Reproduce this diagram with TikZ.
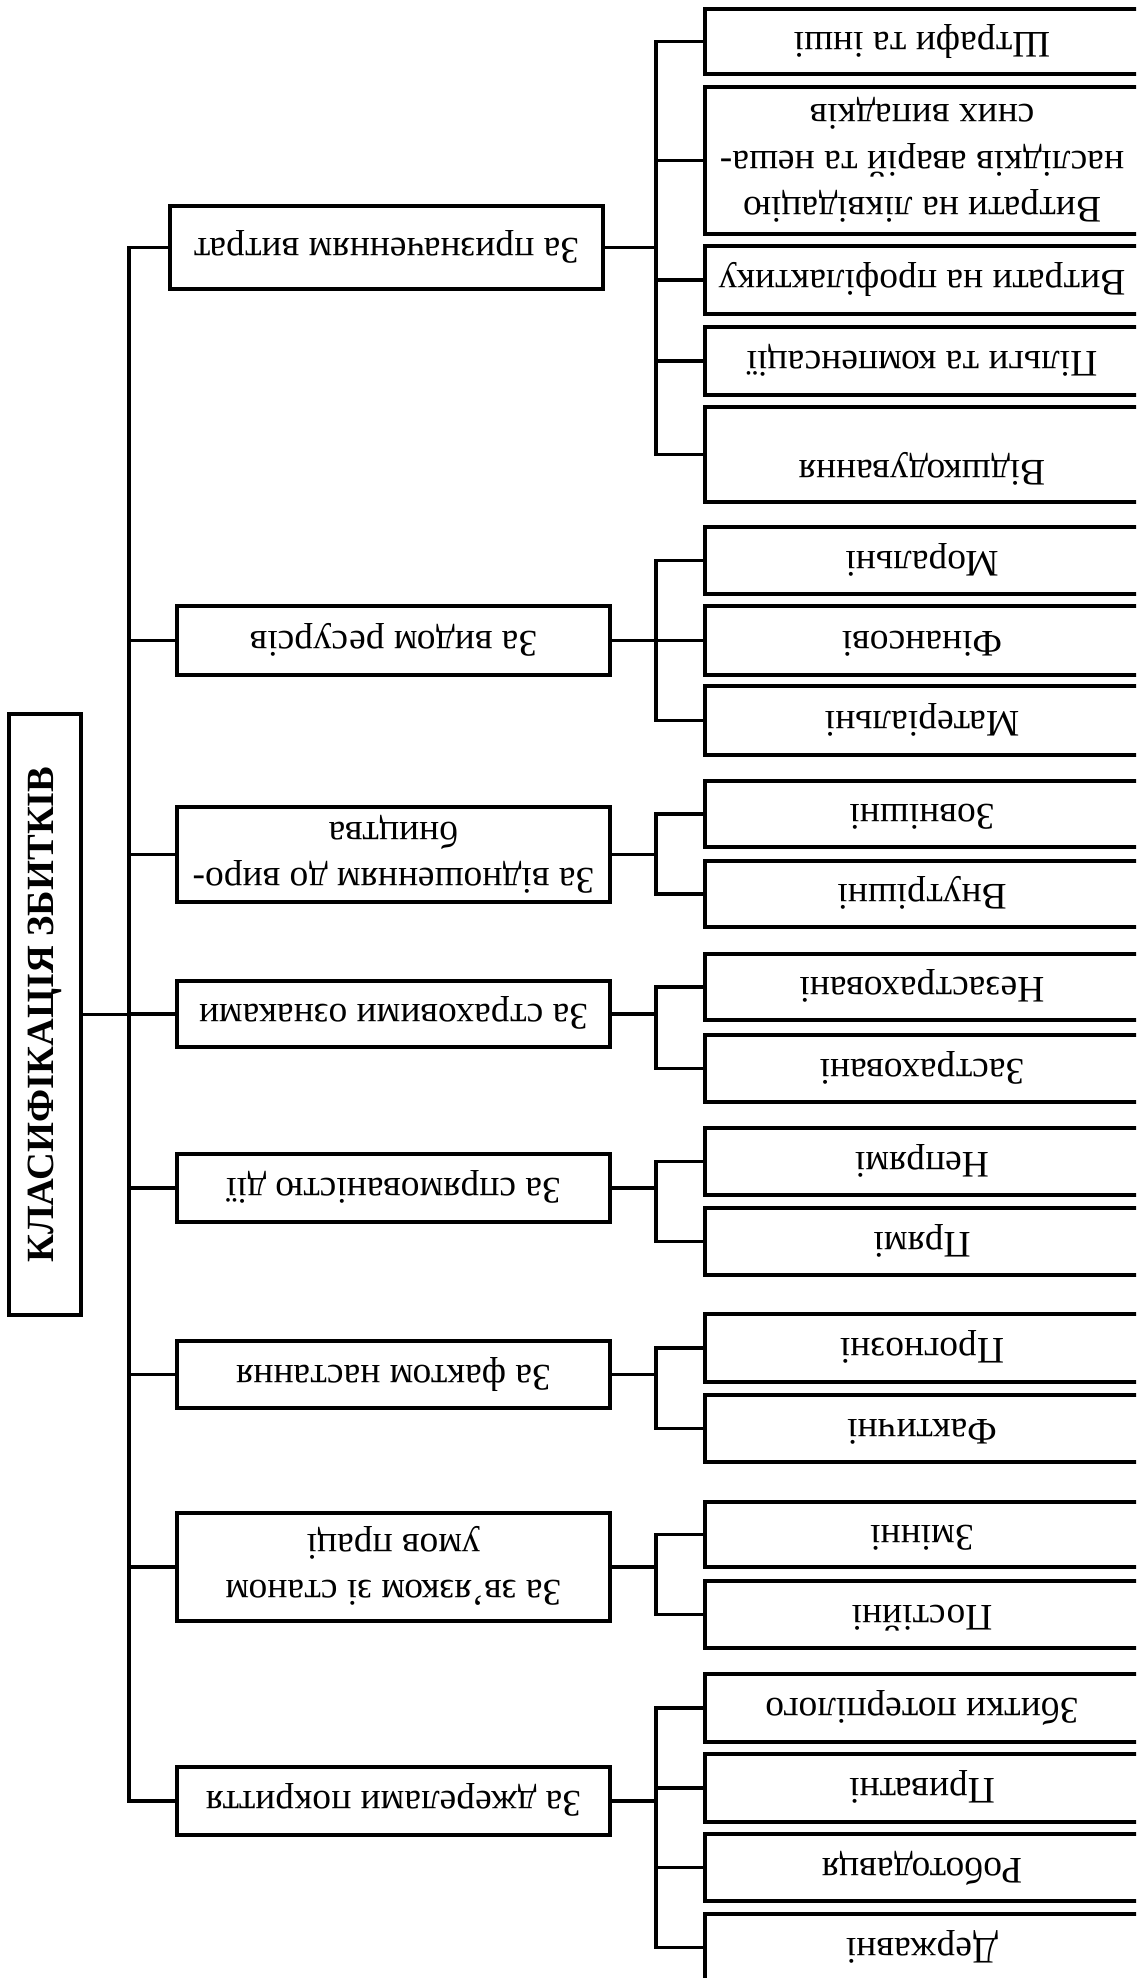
\documentclass[tikz,border=0pt]{standalone}
\usepackage{fontspec}
\setmainfont{Liberation Serif}
\usepackage{tikz}

\tikzset{
  box/.style={draw, line width=1.6pt, inner sep=0pt, font=\fontsize{15}{18.5}\selectfont},
  catbox/.style={box, minimum width=173.2pt},
  subbox/.style={box, minimum width=173.6pt},
  link/.style={line width=1.4pt, line cap=rect},
}
\newcommand{\flip}[1]{\rotatebox{180}{\begin{tabular}{@{}c@{}}#1\end{tabular}}}

\begin{document}
\begin{tikzpicture}[x=0.4pt, y=-0.4pt]
\useasboundingbox (0,0) rectangle (1136,1978);
\clip (0,0) rectangle (1136,1978);
\coordinate (sp) at (129,0);
\coordinate (j) at (656,0);
\node[box, minimum width=28.8pt, minimum height=240.4pt] (main) at (45,1014.5) {\rotatebox{90}{\fontsize{15.4}{18}\selectfont\bfseries КЛАСИФІКАЦІЯ ЗБИТКІВ}};
\foreach \i/\x/\y/\hh/\txt in {1/386.5/247.5/83/{За призначенням витрат},
  2/393.5/640.5/69/{За видом ресурсів},
  3/393.5/854.5/95/{За відношенням до виро-\\бництва},
  4/393.5/1014/66/{За страховими ознаками},
  5/393.5/1188/68/{За спрямованістю дії},
  6/393.5/1374.5/67/{За фактом настання},
  7/393.5/1567/108/{За зв’язком зі станом\\умов праці},
  8/393.5/1801/68/{За джерелами покриття}}
  \node[catbox, minimum height=\hh*0.4pt] (c\i) at (\x,\y) {\flip{\txt}};
\foreach \n/\y/\hh/\txt in {r11/41.5/65/{Штрафи та інші},
  r12/160.5/147/{Витрати на ліквідацію\\наслідків аварій та неша-\\сних випадків},
  r13/280/68/{Витрати на профілактику},
  r14/361/68/{Пільги та компенсації},
  r15/454.5/95/{Відшкодування\\[-6pt]\mbox{}},
  r21/560.5/67/{Моральні},
  r22/640.5/69/{Фінансові},
  r23/720.5/69/{Матеріальні},
  r31/814/66/{Зовнішні},
  r32/894/66/{Внутрішні},
  r41/987/66/{Незастраховані},
  r42/1068.5/67/{Застраховані},
  r51/1161.5/67/{Непрямі},
  r52/1241.5/67/{Прямі},
  r61/1348/68/{Прогнозні},
  r62/1428.5/67/{Фактичні},
  r71/1534.5/65/{Змінні},
  r72/1614.5/67/{Постійні},
  r81/1708/68/{Збитки потерпілого},
  r82/1788/68/{Приватні},
  r83/1867.5/67/{Роботодавця},
  r84/1947.5/67/{Державні}}
  \node[subbox, minimum height=\hh*0.4pt] (\n) at (922,\y) {\flip{\txt}};
\draw[link] (sp |- c1.west) -- (sp |- c8.west);
\foreach \i in {1,...,8} \draw[link] (sp |- c\i.west) -- (c\i.west);
\draw[link] (main.east) -- (sp |- main.east);
\foreach \i/\m in {1/5,2/3,3/2,4/2,5/2,6/2,7/2,8/4} {
  \draw[link] (c\i.east) -- (j |- c\i.east);
  \draw[link] (j |- r\i1.west) -- (j |- r\i\m.west);
  \foreach \k in {1,...,\m} \draw[link] (j |- r\i\k.west) -- (r\i\k.west);
}
\end{tikzpicture}
\end{document}
